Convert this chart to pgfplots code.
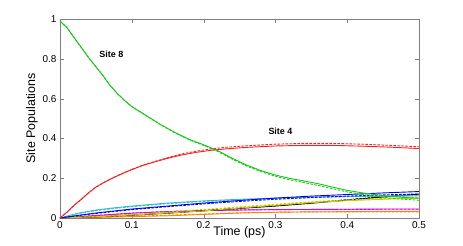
\documentclass[border=0pt]{standalone}
\usepackage{fontspec}
\setmainfont{Liberation Sans}
\usepackage{pgfplots}
\pgfplotsset{compat=1.18}
\definecolor{mgreen}{RGB}{20,200,20}
\definecolor{mred}{RGB}{255,30,30}
\definecolor{mblue}{RGB}{0,0,240}
\definecolor{mcyan}{RGB}{40,190,200}
\definecolor{mmag}{RGB}{220,0,220}
\definecolor{myel}{RGB}{210,200,0}
\definecolor{morange}{RGB}{255,130,0}
\begin{document}
\begin{tikzpicture}
\begin{axis}[
  scale only axis, width=359bp, height=199bp,
  xmin=0, xmax=0.5, ymin=0, ymax=1,
  xtick={0,0.1,0.2,0.3,0.4,0.5},
  ytick={0,0.2,0.4,0.6,0.8,1},
  xticklabels={0,0.1,0.2,0.3,0.4,0.5},
  yticklabels={0,0.2,0.4,0.6,0.8,1},
  tick align=inside, major tick length=4bp,
  axis line style={gray}, tick style={gray},
  ticklabel style={font=\fontsize{10}{12}\selectfont},
  label style={font=\fontsize{12.5}{14}\selectfont},
  xlabel={Time (ps)}, ylabel={Site Populations},
  xlabel style={at={(axis description cs:0.5,0)}, anchor=north, yshift=-4.5bp},
  ylabel style={yshift=-2bp},
  /pgf/number format/assume math mode=true,
  every axis plot/.append style={line width=0.9pt},
  clip=true,
]
% orange
\addplot[morange] coordinates {(0,0)(0.05,0.003)(0.1,0.007)(0.15,0.011)(0.2,0.018)(0.25,0.025)(0.3,0.029)(0.35,0.031)(0.4,0.032)(0.45,0.033)(0.5,0.033)};
\addplot[morange, dash pattern=on 2.5bp off 1.5bp] coordinates {(0,0)(0.05,0.004)(0.1,0.009)(0.15,0.014)(0.2,0.02)(0.25,0.026)(0.3,0.029)(0.35,0.031)(0.4,0.031)(0.45,0.031)(0.5,0.03)};
% magenta
\addplot[mmag] coordinates {(0,0)(0.05,0.012)(0.1,0.024)(0.15,0.032)(0.2,0.037)(0.25,0.04)(0.3,0.042)(0.35,0.043)(0.4,0.044)(0.45,0.045)(0.5,0.045)};
\addplot[mmag, dash pattern=on 2.5bp off 1.5bp] coordinates {(0,0)(0.05,0.013)(0.1,0.025)(0.15,0.033)(0.2,0.038)(0.25,0.041)(0.3,0.042)(0.35,0.043)(0.4,0.043)(0.45,0.044)(0.5,0.044)};
% black
\addplot[black] coordinates {(0,0)(0.05,0.006)(0.1,0.014)(0.15,0.024)(0.2,0.036)(0.25,0.048)(0.3,0.06)(0.35,0.074)(0.4,0.09)(0.45,0.106)(0.5,0.12)};
\addplot[black, dash pattern=on 2.5bp off 1.5bp] coordinates {(0,0)(0.05,0.007)(0.1,0.016)(0.15,0.026)(0.2,0.038)(0.25,0.05)(0.3,0.063)(0.35,0.077)(0.4,0.092)(0.45,0.107)(0.5,0.12)};
% yellow
\addplot[myel] coordinates {(0,0)(0.05,0.006)(0.1,0.015)(0.15,0.025)(0.2,0.036)(0.25,0.05)(0.3,0.064)(0.35,0.077)(0.4,0.087)(0.45,0.094)(0.5,0.1)};
\addplot[myel, dash pattern=on 2.5bp off 1.5bp] coordinates {(0,0)(0.05,0.008)(0.1,0.018)(0.15,0.03)(0.2,0.043)(0.25,0.056)(0.3,0.069)(0.35,0.081)(0.4,0.091)(0.45,0.098)(0.5,0.103)};
% cyan
\addplot[mcyan] coordinates {(0,0)(0.025,0.024)(0.05,0.04)(0.075,0.051)(0.1,0.06)(0.15,0.075)(0.2,0.086)(0.25,0.094)(0.3,0.1)(0.35,0.105)(0.4,0.108)(0.45,0.11)(0.5,0.112)};
\addplot[mcyan, dash pattern=on 2.5bp off 1.5bp] coordinates {(0,0)(0.025,0.022)(0.05,0.037)(0.075,0.048)(0.1,0.057)(0.15,0.072)(0.2,0.083)(0.25,0.091)(0.3,0.098)(0.35,0.103)(0.4,0.107)(0.45,0.109)(0.5,0.111)};
% blue
\addplot[mblue] coordinates {(0,0)(0.025,0.013)(0.05,0.025)(0.1,0.045)(0.15,0.06)(0.2,0.075)(0.25,0.088)(0.3,0.1)(0.35,0.11)(0.4,0.118)(0.45,0.126)(0.5,0.133)};
\addplot[mblue, dash pattern=on 2.5bp off 1.5bp] coordinates {(0,0)(0.025,0.012)(0.05,0.023)(0.1,0.042)(0.15,0.057)(0.2,0.071)(0.25,0.083)(0.3,0.094)(0.35,0.103)(0.4,0.11)(0.45,0.116)(0.5,0.121)};
% red (site 4)
\addplot[mred] coordinates {(0,0)(0.01,0.03)(0.02,0.065)(0.03,0.095)(0.04,0.127)(0.05,0.155)(0.06,0.176)(0.07,0.195)(0.08,0.212)(0.09,0.228)(0.1,0.243)(0.11,0.257)(0.12,0.269)(0.13,0.28)(0.15,0.3)(0.17,0.317)(0.19,0.33)(0.21,0.34)(0.23,0.347)(0.26,0.355)(0.3,0.362)(0.34,0.365)(0.38,0.365)(0.42,0.361)(0.46,0.356)(0.5,0.349)};
\addplot[mred, dash pattern=on 2.5bp off 1.5bp] coordinates {(0,0)(0.01,0.03)(0.02,0.065)(0.03,0.095)(0.04,0.127)(0.05,0.155)(0.06,0.176)(0.07,0.195)(0.08,0.213)(0.09,0.229)(0.1,0.244)(0.11,0.258)(0.12,0.271)(0.13,0.282)(0.15,0.303)(0.17,0.322)(0.19,0.336)(0.21,0.347)(0.23,0.355)(0.26,0.363)(0.3,0.371)(0.34,0.375)(0.38,0.375)(0.42,0.371)(0.46,0.365)(0.5,0.358)};
% green (site 8)
\addplot[mgreen] coordinates {(0,0.99)(0.01,0.955)(0.02,0.905)(0.03,0.855)(0.04,0.805)(0.05,0.76)(0.06,0.715)(0.07,0.665)(0.08,0.625)(0.09,0.59)(0.1,0.56)(0.12,0.515)(0.14,0.47)(0.16,0.43)(0.18,0.395)(0.2,0.368)(0.22,0.338)(0.24,0.3)(0.26,0.266)(0.28,0.238)(0.3,0.216)(0.32,0.199)(0.34,0.186)(0.36,0.172)(0.38,0.155)(0.4,0.139)(0.42,0.127)(0.44,0.117)(0.46,0.109)(0.48,0.103)(0.5,0.099)};
\addplot[mgreen, dash pattern=on 2.5bp off 1.5bp] coordinates {(0,0.99)(0.01,0.955)(0.02,0.905)(0.03,0.855)(0.04,0.805)(0.05,0.76)(0.06,0.715)(0.07,0.665)(0.08,0.625)(0.09,0.59)(0.1,0.56)(0.12,0.514)(0.14,0.469)(0.16,0.428)(0.18,0.393)(0.2,0.365)(0.22,0.334)(0.24,0.296)(0.26,0.261)(0.28,0.233)(0.3,0.21)(0.32,0.192)(0.34,0.178)(0.36,0.163)(0.38,0.147)(0.4,0.131)(0.42,0.119)(0.44,0.109)(0.46,0.1)(0.48,0.094)(0.5,0.089)};
\node[font=\bfseries\fontsize{9}{10}\selectfont, anchor=west] at (axis cs:0.05,0.822) {Site 8};
\node[font=\bfseries\fontsize{9}{10}\selectfont, anchor=west] at (axis cs:0.2855,0.437) {Site 4};
\coordinate (sw) at (rel axis cs:0,0);
\coordinate (ne) at (rel axis cs:1,1);
\end{axis}
\pgfresetboundingbox
\path[use as bounding box] ([xshift=-60bp,yshift=-28bp]sw) rectangle ([xshift=44bp,yshift=19bp]ne);
\end{tikzpicture}
\end{document}
